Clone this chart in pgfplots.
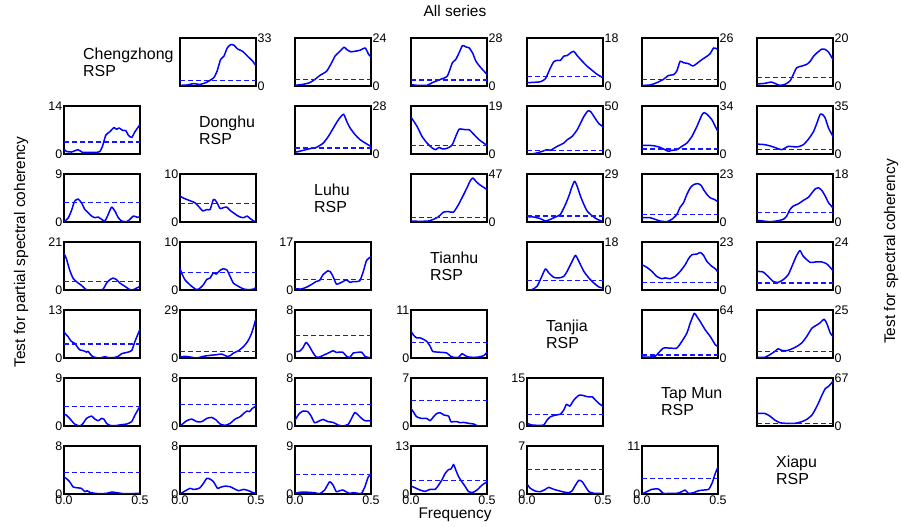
\documentclass[border=0pt]{standalone}
\usepackage{fontspec}
\setmainfont{Liberation Sans}
\usepackage{pgfplots}
\pgfplotsset{compat=1.18}

\definecolor{curveblue}{RGB}{0,0,255}
\definecolor{thrblue}{RGB}{20,20,255}

\pgfplotsset{
  panel/.style={
    width=76bp, height=48bp, scale only axis, anchor=south west,
    xmin=0, xmax=0.5, ymin=0,
    axis line style={line width=1.2bp},
    major tick length=0pt,
    xtick=\empty,
    tick label style={font=\fontsize{12.5}{14}\selectfont},
    yticklabel style={inner sep=1.5bp},
    xticklabel style={inner sep=1.5bp},
    /pgf/number format/assume math mode=true,
  },
  curve/.style={curveblue, line width=1.5bp, smooth, tension=0.35, line join=round},
  thr/.style={thrblue, line width=1.25bp, dash pattern=on 5bp off 3bp},
}

% spectral coherency panel (upper triangle): left, bottom, ymax, threshold, data
\newcommand\UP[5]{%
\begin{axis}[panel, at={(#1bp,#2bp)}, ymax=#3, ytick={0,#3}, yticklabel pos=right]
\addplot[curve] coordinates {#5};
\addplot[thr] coordinates {(0,#4) (0.5,#4)};
\end{axis}}
% partial spectral coherency panel (lower triangle)
\newcommand\LO[5]{%
\begin{axis}[panel, at={(#1bp,#2bp)}, ymax=#3, ytick={0,#3}, yticklabel pos=left]
\addplot[curve] coordinates {#5};
\addplot[thr] coordinates {(0,#4) (0.5,#4)};
\end{axis}}
% bottom row, with frequency ticks
\newcommand\LOB[5]{%
\begin{axis}[panel, at={(#1bp,#2bp)}, ymax=#3, ytick={0,#3}, yticklabel pos=left,
  xtick={0,0.5}, xticklabels={0.0,0.5}]
\addplot[curve] coordinates {#5};
\addplot[thr] coordinates {(0,#4) (0.5,#4)};
\end{axis}}
\newcommand\DIAG[3]{%
\node[anchor=west, align=left, font=\fontsize{16}{17}\selectfont, inner sep=0pt] at (#1bp,#2bp) {#3};}

\begin{document}
\begin{tikzpicture}
\useasboundingbox (0,0) rectangle (901bp,527bp);

\node[anchor=base, font=\fontsize{15.5}{17}\selectfont] at (455bp,510.3bp) {All series};
\node[anchor=base, font=\fontsize{15.5}{17}\selectfont] at (455bp,8.3bp) {Frequency};
\node[anchor=base, rotate=90, font=\fontsize{15.5}{17}\selectfont] at (25bp,275bp) {Test for partial spectral coherency};
\node[anchor=base, rotate=90, font=\fontsize{15.5}{17}\selectfont] at (895bp,275.5bp) {Test for spectral coherency};

% series names on the diagonal
\DIAG{83}{465}{Chengzhong\\RSP}
\DIAG{199}{397}{Donghu\\RSP}
\DIAG{314}{329}{Luhu\\RSP}
\DIAG{430}{261}{Tianhu\\RSP}
\DIAG{546}{193}{Tanjia\\RSP}
\DIAG{661}{125}{Tap Mun\\RSP}
\DIAG{776}{57}{Xiapu\\RSP}

% ---- row 1
\UP{180}{441}{33}{3.9}{(0,0.45) (0.044,0.68) (0.089,1.6) (0.133,1.1) (0.178,2.7) (0.222,5.7) (0.244,10.2) (0.267,18.2) (0.289,20.5) (0.311,26.2) (0.333,28.4) (0.356,28.0) (0.378,25.5) (0.411,23.9) (0.444,20.5) (0.478,17.1) (0.5,13.7)}
\UP{295}{441}{24}{3.3}{(0,0.33) (0.053,0.83) (0.097,1.66) (0.131,3.3) (0.164,5.3) (0.208,7.4) (0.241,11.6) (0.263,14.9) (0.296,17.4) (0.323,19.4) (0.341,18.2) (0.367,17.1) (0.396,17.4) (0.429,17.9) (0.462,19.0) (0.485,15.7) (0.5,14.6)}
\UP{411}{441}{28}{3.5}{(0,0.77) (0.04,0.4) (0.106,0.4) (0.139,1.9) (0.195,3.9) (0.239,5.8) (0.272,13.5) (0.294,15.4) (0.316,19.3) (0.339,23.6) (0.361,22.8) (0.383,22.2) (0.405,19.3) (0.427,14.5) (0.46,10.6) (0.5,6.8)}
\UP{527}{441}{18}{3.5}{(0,1.24) (0.044,1.37) (0.088,1.6) (0.121,2.7) (0.154,6.8) (0.176,9.1) (0.198,9.6) (0.22,9.6) (0.242,11.2) (0.264,11.4) (0.286,12.4) (0.308,13.0) (0.33,11.4) (0.363,9.3) (0.396,7.4) (0.43,5.8) (0.463,4.3) (0.5,3.1)}
\UP{642}{441}{26}{3.6}{(0,0.36) (0.053,0.54) (0.097,1.8) (0.141,3.6) (0.174,5.7) (0.207,6.1) (0.229,8.1) (0.251,13.4) (0.273,12.6) (0.306,12.1) (0.335,10.8) (0.361,12.2) (0.394,14.3) (0.427,16.1) (0.449,17.6) (0.471,20.6) (0.493,20.1) (0.5,19.7)}
\UP{757}{441}{20}{3.4}{(0,0.83) (0.051,1.1) (0.095,1.66) (0.117,1.1) (0.15,0.28) (0.184,0.69) (0.217,2.1) (0.239,4.8) (0.261,7.6) (0.294,8.3) (0.327,9.0) (0.35,10.3) (0.372,12.4) (0.394,13.8) (0.427,15.4) (0.449,15.2) (0.471,14.1) (0.5,11.0)}

% ---- row 2
\LO{64}{373}{14}{3.5}{(0,1.43) (0.015,0.76) (0.048,0.57) (0.093,1.24) (0.121,0.48) (0.17,0.48) (0.214,0.48) (0.236,0.76) (0.253,2.2) (0.275,5.5) (0.302,6.5) (0.328,7.7) (0.346,7.2) (0.363,7.6) (0.385,6.9) (0.407,6.8) (0.423,5.5) (0.445,4.8) (0.467,6.5) (0.5,8.6)}
\UP{295}{373}{28}{3.5}{(0,0.97) (0.053,2.1) (0.097,3.1) (0.142,3.9) (0.186,6.4) (0.219,10.2) (0.252,15.1) (0.285,19.9) (0.319,23.2) (0.341,18.9) (0.363,15.1) (0.396,11.2) (0.429,8.3) (0.462,6.4) (0.5,4.4)}
\UP{411}{373}{19}{3.4}{(0,14.6) (0.04,10.9) (0.073,6.9) (0.106,4.3) (0.139,2.4) (0.162,1.7) (0.184,2.6) (0.206,2.0) (0.228,2.1) (0.25,2.6) (0.272,3.7) (0.294,6.9) (0.316,9.8) (0.339,9.8) (0.361,9.6) (0.383,9.6) (0.416,7.6) (0.449,5.6) (0.5,3.4)}
\UP{527}{373}{50}{3.4}{(0,0) (0.044,0.34) (0.088,2.1) (0.132,4.5) (0.154,3.8) (0.198,7.9) (0.242,11.4) (0.264,14.8) (0.297,18.3) (0.33,25.2) (0.352,32.1) (0.374,39.0) (0.4,44.8) (0.419,44.1) (0.441,38.9) (0.474,31.4) (0.5,28.6)}
\UP{642}{373}{34}{3.5}{(0,6.1) (0.031,6.1) (0.075,5.9) (0.119,4.7) (0.152,3.0) (0.174,1.9) (0.196,2.6) (0.229,3.0) (0.262,5.4) (0.295,7.7) (0.328,12.4) (0.361,19.5) (0.394,27.7) (0.41,29.3) (0.432,27.7) (0.46,24.2) (0.482,19.5) (0.5,15.9)}
\UP{757}{373}{35}{3.1}{(0,7.2) (0.051,6.8) (0.095,5.6) (0.128,4.3) (0.162,3.1) (0.184,4.3) (0.206,5.6) (0.239,5.3) (0.272,5.3) (0.305,6.8) (0.339,10.9) (0.372,16.4) (0.394,22.5) (0.416,29.0) (0.434,28.5) (0.449,26.1) (0.471,18.8) (0.5,12.8)}

% ---- row 3
\LO{64}{305}{9}{3.7}{(0,0.06) (0.026,0.68) (0.048,2.05) (0.07,3.9) (0.093,4.3) (0.115,3.6) (0.137,2.36) (0.159,1.74) (0.181,1.12) (0.203,0.81) (0.225,0.93) (0.247,0.5) (0.269,0.19) (0.291,1.43) (0.313,2.79) (0.335,2.05) (0.357,0.81) (0.379,0.19) (0.412,0.06) (0.434,0.5) (0.456,1.12) (0.478,0.93) (0.5,0.93)}
\LO{180}{305}{10}{3.8}{(0,5.4) (0.022,5.0) (0.044,4.7) (0.077,4.3) (0.099,4.0) (0.121,3.3) (0.15,2.3) (0.176,2.6) (0.198,2.6) (0.22,4.7) (0.238,4.3) (0.264,2.8) (0.286,3.0) (0.308,3.1) (0.33,2.4) (0.352,1.9) (0.374,1.4) (0.396,1.03) (0.419,0.9) (0.441,1.24) (0.463,0.69) (0.485,0.21) (0.5,0.07)}
\UP{411}{305}{47}{4.2}{(0,1.0) (0.059,0.65) (0.115,1.0) (0.148,2.6) (0.181,5.2) (0.214,9.7) (0.247,10.1) (0.28,9.7) (0.313,17.2) (0.341,25.3) (0.368,33.4) (0.39,40.5) (0.407,43.1) (0.423,40.5) (0.445,37.3) (0.467,35.0) (0.5,31.8)}
\UP{527}{305}{29}{3.6}{(0,3.2) (0.044,3.0) (0.088,2.0) (0.121,0.6) (0.154,1.6) (0.187,3.0) (0.22,4.6) (0.253,10.6) (0.275,15.6) (0.297,21.6) (0.313,24.6) (0.33,21.6) (0.352,15.6) (0.374,10.6) (0.396,6.6) (0.43,3.6) (0.463,1.6) (0.5,0.2)}
\UP{642}{305}{23}{3.6}{(0,2.06) (0.053,2.06) (0.086,1.27) (0.119,0.48) (0.163,0.16) (0.196,1.27) (0.229,3.6) (0.251,7.1) (0.273,9.2) (0.295,13.2) (0.317,16.3) (0.339,17.9) (0.366,18.4) (0.388,17.6) (0.405,15.5) (0.427,13.2) (0.449,11.6) (0.476,10.8) (0.5,9.7)}
\UP{757}{305}{18}{3.5}{(0,0.62) (0.04,0.37) (0.084,0.12) (0.128,0.37) (0.173,0.99) (0.195,2.2) (0.217,4.7) (0.239,6.0) (0.272,6.8) (0.305,8.1) (0.339,9.3) (0.361,10.9) (0.383,12.4) (0.405,12.8) (0.427,11.8) (0.449,9.7) (0.471,7.2) (0.5,5.3)}

% ---- row 4
\LO{64}{237}{21}{3.6}{(0,16.0) (0.015,13.8) (0.037,8.8) (0.059,5.2) (0.081,3.7) (0.115,2.0) (0.148,0.14) (0.192,0) (0.236,0) (0.258,0.43) (0.28,3.0) (0.302,4.5) (0.324,5.2) (0.346,4.5) (0.368,3.0) (0.401,1.6) (0.434,0.14) (0.456,0.14) (0.478,0.86) (0.5,1.6)}
\LO{180}{237}{10}{3.6}{(0,4.5) (0.011,3.5) (0.033,2.1) (0.055,1.4) (0.077,0.75) (0.11,0.07) (0.132,0.4) (0.154,1.1) (0.176,2.2) (0.198,2.5) (0.22,3.6) (0.238,3.3) (0.26,4.0) (0.282,4.4) (0.308,4.2) (0.33,2.8) (0.352,1.4) (0.385,0.75) (0.419,0.2) (0.452,0.07) (0.485,0.2) (0.5,0.55)}
\LO{295}{237}{17}{3.6}{(0,0.47) (0.04,0.35) (0.073,0.93) (0.106,1.86) (0.139,3.0) (0.162,3.4) (0.184,5.4) (0.217,6.8) (0.232,6.5) (0.25,4.8) (0.272,2.1) (0.294,2.4) (0.316,3.0) (0.339,3.6) (0.361,2.7) (0.383,3.0) (0.405,3.0) (0.427,3.3) (0.449,6.5) (0.471,10.5) (0.5,11.8)}
\UP{527}{237}{18}{3.5}{(0,0) (0.033,0.13) (0.066,1.4) (0.088,3.9) (0.121,7.9) (0.143,6.4) (0.176,4.75) (0.209,4.5) (0.242,5.1) (0.264,7.0) (0.297,10.75) (0.319,13.0) (0.341,10.75) (0.374,7.0) (0.407,4.5) (0.44,2.6) (0.474,1.1) (0.5,0.75)}
\UP{642}{237}{23}{3.7}{(0,12.1) (0.031,10.9) (0.064,9.0) (0.097,6.5) (0.13,5.4) (0.152,5.8) (0.185,5.4) (0.218,6.5) (0.251,8.9) (0.284,12.1) (0.306,15.0) (0.328,16.9) (0.361,17.2) (0.383,18.0) (0.405,16.6) (0.427,13.7) (0.46,11.3) (0.482,10.2) (0.5,8.6)}
\UP{757}{237}{24}{3.5}{(0,9.3) (0.04,9.0) (0.073,6.8) (0.106,4.3) (0.139,3.8) (0.173,5.2) (0.206,7.7) (0.239,13.5) (0.261,17.3) (0.283,19.7) (0.305,16.8) (0.35,13.8) (0.383,14.0) (0.427,14.0) (0.46,13.0) (0.5,9.7)}

% ---- row 5
\LO{64}{169}{13}{3.8}{(0,7.0) (0.026,5.8) (0.048,4.5) (0.07,4.0) (0.086,3.1) (0.104,2.2) (0.126,2.0) (0.148,1.6) (0.159,1.8) (0.181,0.63) (0.203,0.18) (0.236,0) (0.269,0.36) (0.291,0.09) (0.324,0.09) (0.357,0.45) (0.379,1.17) (0.412,1.5) (0.445,2.0) (0.467,4.5) (0.5,7.8)}
\LO{180}{169}{29}{3.8}{(0,0.6) (0.033,1.0) (0.066,0.6) (0.11,0) (0.154,1.0) (0.198,1.6) (0.242,2.0) (0.275,2.4) (0.308,1.0) (0.33,1.4) (0.352,3.0) (0.385,4.4) (0.419,7.0) (0.445,10.0) (0.467,14.0) (0.485,19.0) (0.5,24.0)}
\LO{295}{169}{8}{3.7}{(0,1.1) (0.029,1.1) (0.051,1.66) (0.073,2.6) (0.095,1.93) (0.117,0.94) (0.139,0.17) (0.162,0.17) (0.195,0.55) (0.228,0.94) (0.25,1.21) (0.272,0.94) (0.294,0.99) (0.316,0.94) (0.339,0.28) (0.361,0.11) (0.383,0.83) (0.416,0.94) (0.438,0.99) (0.46,0.28) (0.482,0.11) (0.5,0)}
\LO{411}{169}{11}{3.6}{(0,6.1) (0.015,5.3) (0.037,4.6) (0.059,4.6) (0.081,4.3) (0.104,3.8) (0.126,2.7) (0.143,1.5) (0.17,1.37) (0.203,1.29) (0.236,1.14) (0.262,0.38) (0.28,0.15) (0.313,0.15) (0.335,0.99) (0.357,0.53) (0.379,0.23) (0.412,0.15) (0.445,0.23) (0.478,0.53) (0.5,1.29)}
\UP{642}{169}{64}{4.0}{(0,1.3) (0.053,1.3) (0.086,2.2) (0.108,6.6) (0.141,13.2) (0.185,13.2) (0.229,13.2) (0.262,22.1) (0.295,33.1) (0.317,46.3) (0.344,59.6) (0.361,55.2) (0.383,48.6) (0.416,37.5) (0.449,28.7) (0.482,17.7) (0.5,15.4)}
\UP{757}{169}{25}{3.4}{(0,0.34) (0.051,0.34) (0.084,1.7) (0.117,3.4) (0.139,4.8) (0.162,3.96) (0.195,3.8) (0.228,4.7) (0.261,6.0) (0.294,7.8) (0.327,11.2) (0.361,15.5) (0.394,17.2) (0.416,18.4) (0.442,20.2) (0.46,17.8) (0.482,13.0) (0.5,11.2)}

% ---- row 6
\LO{64}{101}{9}{3.6}{(0,2.2) (0.015,2.05) (0.037,1.43) (0.07,0.37) (0.104,0) (0.126,0.5) (0.148,1.43) (0.181,1.86) (0.203,1.3) (0.225,0.99) (0.247,1.43) (0.262,1.3) (0.28,0.5) (0.302,0.12) (0.335,0.06) (0.379,0.25) (0.412,0.37) (0.445,0.81) (0.467,2.05) (0.5,3.7)}
\LO{180}{101}{8}{3.6}{(0,0) (0.022,0.44) (0.044,0.88) (0.077,1.16) (0.11,0.72) (0.143,0.72) (0.176,1.27) (0.209,1.43) (0.238,0.99) (0.264,0.33) (0.297,0.11) (0.33,0.44) (0.363,1.16) (0.396,1.55) (0.419,2.1) (0.441,2.5) (0.458,2.4) (0.474,2.9) (0.5,3.3)}
\LO{295}{101}{8}{3.6}{(0,0.99) (0.029,2.1) (0.055,2.5) (0.084,2.4) (0.106,1.66) (0.128,0.55) (0.15,0.72) (0.184,1.1) (0.217,0.72) (0.25,0.61) (0.283,0.17) (0.316,0) (0.35,0.28) (0.372,1.27) (0.394,2.26) (0.416,1.82) (0.438,1.27) (0.46,0.88) (0.482,0.88) (0.5,0.83)}
\LO{411}{101}{7}{3.7}{(0,2.56) (0.015,2.07) (0.037,1.35) (0.07,1.1) (0.104,1.1) (0.126,0.77) (0.148,1.35) (0.17,1.83) (0.192,1.93) (0.218,1.59) (0.247,1.45) (0.262,0.63) (0.28,0.63) (0.302,0.63) (0.324,0.48) (0.346,0.53) (0.379,0.39) (0.412,0.29) (0.434,0.05) (0.456,0) (0.5,0)}
\LO{527}{101}{15}{3.7}{(0,0.83) (0.033,0.31) (0.077,0.21) (0.11,0.31) (0.132,1.86) (0.154,2.9) (0.187,3.4) (0.22,3.7) (0.242,5.0) (0.26,6.8) (0.282,6.2) (0.308,8.1) (0.341,9.6) (0.363,9.6) (0.385,9.3) (0.407,9.1) (0.43,9.1) (0.452,8.0) (0.474,7.0) (0.5,6.2)}
\UP{757}{101}{67}{3.7}{(0,17.6) (0.051,17.6) (0.084,13.9) (0.117,8.3) (0.15,4.6) (0.195,3.7) (0.25,3.7) (0.294,6.0) (0.327,9.2) (0.361,15.2) (0.383,23.1) (0.405,32.3) (0.427,43.0) (0.449,52.1) (0.471,55.4) (0.5,62.4)}

% ---- row 7
\LOB{64}{33}{8}{3.64}{(0,2.76) (0.015,2.6) (0.037,2.05) (0.059,1.2) (0.081,1.05) (0.115,0.94) (0.137,0.39) (0.152,0.55) (0.17,0.28) (0.203,0.11) (0.236,0.06) (0.28,0.11) (0.313,0.33) (0.346,0.22) (0.39,0.06) (0.434,0.06) (0.5,0.11)}
\LOB{180}{33}{8}{3.64}{(0,0) (0.033,0.5) (0.066,0.94) (0.088,0.77) (0.11,0.83) (0.132,1.05) (0.154,1.77) (0.176,2.6) (0.198,2.48) (0.22,2.05) (0.247,0.94) (0.264,1.1) (0.297,1.32) (0.33,1.21) (0.352,0.94) (0.385,0.55) (0.419,0.77) (0.452,0.55) (0.474,0.28) (0.5,0.11)}
\LOB{295}{33}{9}{3.66}{(0,0.12) (0.029,0.31) (0.062,0.37) (0.095,0.31) (0.128,0.25) (0.162,0.06) (0.195,0.74) (0.228,2.3) (0.25,1.68) (0.272,0.43) (0.294,0.62) (0.316,0.74) (0.339,0.37) (0.361,0.12) (0.383,0.25) (0.416,0.12) (0.438,0.12) (0.46,1.37) (0.482,3.2) (0.5,3.7)}
\LOB{411}{33}{13}{3.7}{(0,2.15) (0.026,1.7) (0.059,1.08) (0.093,0.72) (0.126,1.26) (0.159,1.26) (0.181,2.4) (0.203,3.8) (0.225,5.6) (0.247,6.6) (0.264,6.8) (0.28,8.0) (0.291,6.9) (0.313,4.7) (0.335,3.3) (0.357,2.0) (0.379,0.63) (0.407,0.45) (0.434,1.08) (0.467,2.4) (0.5,3.3)}
\LOB{527}{33}{7}{3.6}{(0,1.45) (0.022,0.82) (0.055,0.43) (0.088,0.34) (0.121,0.68) (0.143,0.97) (0.176,0.68) (0.209,0.48) (0.242,0.29) (0.275,0.19) (0.297,0.48) (0.319,1.3) (0.341,2.0) (0.363,1.8) (0.385,1.06) (0.407,0.34) (0.441,0.1) (0.474,0.1) (0.5,0)}
\LOB{642}{33}{11}{3.6}{(0,0) (0.031,0.53) (0.064,1.06) (0.108,1.14) (0.141,0.15) (0.185,0.15) (0.229,0.15) (0.262,0.53) (0.284,0.91) (0.306,0.15) (0.339,0.3) (0.372,0.76) (0.405,0.91) (0.438,1.06) (0.46,2.4) (0.482,4.7) (0.5,6.2)}

\end{tikzpicture}
\end{document}
